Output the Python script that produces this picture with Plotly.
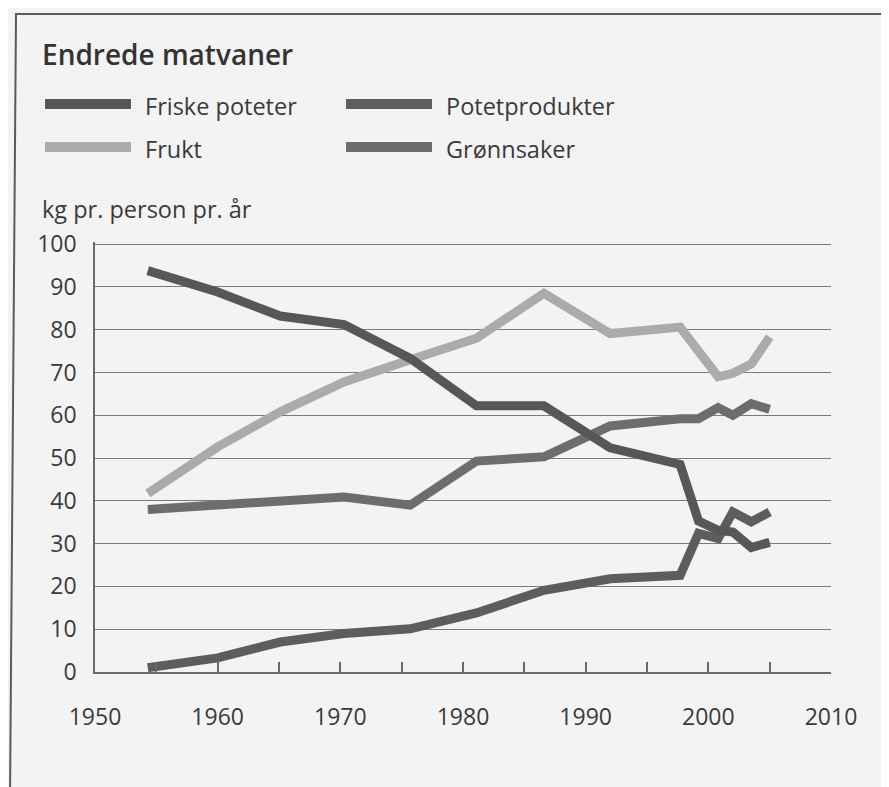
import plotly.graph_objects as go

# ---- data ----
years = [1954.3, 1960.0, 1965.1, 1970.3, 1975.7, 1981.1, 1986.6, 1992.0,
         1997.7, 1999.2, 2000.8, 2002.0, 2003.5, 2005.0]
friske_poteter = [93.8, 88.8, 83.2, 81.2, 73.3, 62.2, 62.2, 52.4,
                  48.5, 35.3, 33.1, 32.7, 29.1, 30.3]
potetprodukter = [1.0, 3.3, 7.0, 9.0, 10.1, 13.8, 19.1, 21.8,
                  22.6, 32.4, 31.2, 37.4, 35.1, 37.4]
frukt = [41.7, 52.6, 60.8, 67.8, 73.0, 78.0, 88.5, 79.1,
         80.6, 75.0, 69.0, 69.8, 72.0, 78.3]
gronnsaker = [38.0, 39.0, 39.8, 40.9, 39.0, 49.3, 50.3, 57.5,
              59.2, 59.2, 61.8, 60.0, 62.7, 61.4]

series_names = ["Friske poteter", "Potetprodukter", "Frukt", "Grønnsaker"]
series_values = [friske_poteter, potetprodukter, frukt, gronnsaker]
series_colors = ["#575757", "#5d5d5d", "#ababab", "#6d6d6d"]

x_tick_vals = [1950, 1960, 1970, 1980, 1990, 2000, 2010]
x_tick_text = ["1950", "1960", "1970", "1980", "1990", "2000", "2010"]
y_tick_vals = [0, 10, 20, 30, 40, 50, 60, 70, 80, 90, 100]

title_text = "Endrede matvaner"
unit_text = "kg pr. person pr. år"

# ---- layout geometry (page body has an 8px margin) ----
OFF = 8
W, H = 889 - OFF, 787 - OFF
L = 95 - OFF
R = W - (831 - OFF)
T = 242 - OFF
B = H - (672 - OFF)
PW, PH = W - L - R, H - T - B
FONT = "Open Sans"
TXT = "#3a3a3a"


def px(xp):
    """window pixel x -> paper x"""
    return (xp - OFF - L) / PW


def py(yp):
    """window pixel y -> paper y"""
    return (H - B - (yp - OFF)) / PH


fig = go.Figure()

draw_order = [2, 3, 1, 0]  # Frukt, Grønnsaker, Potetprodukter, Friske poteter
for i in draw_order:
    fig.add_trace(go.Scatter(
        x=years, y=series_values[i], name=series_names[i], mode="lines",
        line=dict(color=series_colors[i], width=9), showlegend=False,
        hoverinfo="x+y+name"))

# custom legend (long thick swatches like the reference)
leg_cols = [45, 346]
leg_rows = [104, 147]
shapes = []
annotations = []
for k, name in enumerate(series_names):
    col, row = k % 2, k // 2
    x0 = leg_cols[col]
    yc = leg_rows[row]
    shapes.append(dict(type="line", xref="paper", yref="paper",
                       x0=px(x0), x1=px(x0 + 86), y0=py(yc), y1=py(yc),
                       line=dict(color=series_colors[k], width=10)))
    annotations.append(dict(xref="paper", yref="paper", x=px(x0 + 98), y=py(yc + 2),
                            xanchor="left", yanchor="middle", showarrow=False,
                            text=name, font=dict(family=FONT, size=23.5, color=TXT)))

annotations.append(dict(xref="paper", yref="paper", x=px(40), y=py(54),
                        xanchor="left", yanchor="middle", showarrow=False,
                        text=title_text,
                        font=dict(family=FONT, size=28, color="#333333", weight=600)))
annotations.append(dict(xref="paper", yref="paper", x=px(40), y=py(209),
                        xanchor="left", yanchor="middle", showarrow=False,
                        text=unit_text, font=dict(family=FONT, size=23.5, color=TXT)))

# outer frame of the figure box
shapes.append(dict(type="path", xref="paper", yref="paper",
                   path=f"M {px(10)},{py(800)} L {px(16)},{py(14)} L {px(900)},{py(14)}",
                   line=dict(color="#5a5a5a", width=2)))

fig.update_layout(
    width=W, height=H,
    margin=dict(l=L, r=R, t=T, b=B, pad=0),
    paper_bgcolor="#f3f3f3", plot_bgcolor="#f3f3f3",
    showlegend=False,
    shapes=shapes, annotations=annotations,
    font=dict(family=FONT, size=23, color=TXT),
    xaxis=dict(range=[1950, 2010], tickvals=x_tick_vals, ticktext=x_tick_text,
               ticks="inside", ticklen=10, tickcolor="#6a6a6a", tickwidth=1.5,
               minor=dict(dtick=5, tick0=1950, ticks="inside", ticklen=10,
                          tickcolor="#6a6a6a", tickwidth=1.5, showgrid=False),
               showgrid=False, zeroline=False, showline=True,
               linecolor="#6a6a6a", linewidth=1.5,
               ticklabelstandoff=24,
               tickfont=dict(family=FONT, size=23, color=TXT)),
    yaxis=dict(range=[0, 100.5], tickvals=y_tick_vals, ticks="",
               showgrid=True, gridcolor="#7a7a7a", gridwidth=1.4,
               zeroline=False, showline=True, linecolor="#6a6a6a", linewidth=1.5,
               ticklabelstandoff=12,
               tickfont=dict(family=FONT, size=23, color=TXT)),
)

fig.write_html("out.html")
